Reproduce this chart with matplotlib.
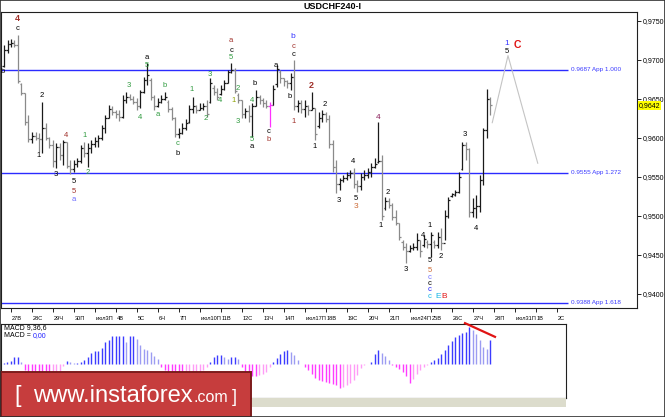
import matplotlib
matplotlib.use('Agg')
import matplotlib.pyplot as plt
import matplotlib.transforms as mtransforms
from matplotlib import font_manager
from matplotlib.patches import Rectangle

plt.rcParams['font.family'] = ['Liberation Sans', 'DejaVu Sans']

W, H = 665, 417

# ---------------- data (USDCHF, H4 bars) ----------------
highs = [
    .9719, .9725, .9726, .9725, .9731, .9670, .9657, .9629, .9607, .9607,
    .9606, .9646, .9619, .9601, .9597, .9593, .9593, .9597, .9594, .9571,
    .9571, .9574, .9590, .9594, .9593, .9597, .9601, .9603, .9616, .9629,
    .9642, .9640, .9635, .9635, .9654, .9658, .9656, .9653, .9651, .9661,
    .9678, .9696, .9676, .9654, .9651, .9654, .9658, .9648, .9639, .9626,
    .9612, .9619, .9624, .9642, .9652, .9642, .9644, .9644, .9648, .9676,
    .9667, .9663, .9667, .9674, .9687, .9696, .9689, .9657, .9648, .9638,
    .9642, .9644, .9661, .9654, .9651, .9648, .9646, .9667, .9693, .9687,
    .9676, .9674, .9683, .9699, .9648, .9648, .9648, .9642, .9658, .9638,
    .9633, .9635, .9633, .9629, .9597, .9571, .9548, .9552, .9556, .9558,
    .9561, .9546, .9555, .9558, .9561, .9567, .9574, .9620, .9578, .9524,
    .9522, .9516, .9507, .9490, .9469, .9465, .9462, .9465, .9478, .9469,
    .9475, .9469, .9479, .9469, .9479, .9484, .9507, .9524, .9529, .9533,
    .9556, .9594, .9594, .9587, .9522, .9526, .9552, .9612, .9662, .9652]
lows = [
    .9690, .9708, .9716, .9716, .9670, .9654, .9616, .9594, .9593, .9597,
    .9581, .9580, .9597, .9587, .9562, .9561, .9571, .9565, .9561, .9553,
    .9556, .9562, .9567, .9575, .9562, .9580, .9588, .9588, .9597, .9606,
    .9625, .9629, .9625, .9621, .9625, .9644, .9648, .9643, .9635, .9638,
    .9657, .9667, .9648, .9635, .9639, .9644, .9648, .9633, .9622, .9601,
    .9599, .9604, .9610, .9619, .9631, .9631, .9635, .9635, .9626, .9644,
    .9654, .9648, .9654, .9661, .9670, .9683, .9657, .9644, .9625, .9625,
    .9620, .9601, .9640, .9643, .9639, .9638, .9613, .9642, .9665, .9670,
    .9666, .9663, .9661, .9635, .9633, .9631, .9626, .9629, .9635, .9597,
    .9612, .9620, .9620, .9587, .9556, .9529, .9533, .9543, .9546, .9548,
    .9535, .9530, .9533, .9546, .9548, .9549, .9561, .9567, .9494, .9507,
    .9510, .9494, .9488, .9469, .9456, .9439, .9453, .9456, .9456, .9447,
    .9460, .9458, .9447, .9458, .9458, .9456, .9469, .9497, .9524, .9525,
    .9529, .9558, .9571, .9498, .9498, .9497, .9505, .9539, .9599, .9629]
opens = [
    .9692, .9712, .9720, .9721, .9719, .9668, .9657, .9620, .9598, .9602,
    .9600, .9598, .9612, .9600, .9590, .9570, .9588, .9578, .9594, .9564,
    .9560, .9566, .9570, .9586, .9580, .9586, .9592, .9595, .9600, .9612,
    .9625, .9637, .9633, .9630, .9626, .9648, .9652, .9650, .9646, .9640,
    .9658, .9674, .9674, .9652, .9640, .9646, .9650, .9646, .9636, .9625,
    .9604, .9606, .9612, .9620, .9636, .9640, .9635, .9638, .9640, .9646,
    .9664, .9658, .9656, .9662, .9670, .9684, .9687, .9655, .9648, .9630,
    .9634, .9628, .9640, .9652, .9648, .9644, .9640, .9642, .9668, .9684,
    .9676, .9672, .9670, .9678, .9640, .9644, .9636, .9640, .9635, .9638,
    .9615, .9625, .9630, .9624, .9592, .9562, .9540, .9545, .9548, .9552,
    .9555, .9540, .9538, .9550, .9552, .9556, .9562, .9568, .9570, .9510,
    .9518, .9514, .9498, .9490, .9466, .9460, .9455, .9458, .9460, .9468,
    .9462, .9466, .9464, .9466, .9462, .9472, .9465, .9500, .9525, .9526,
    .9530, .9560, .9590, .9585, .9505, .9510, .9512, .9545, .9610, .9650]
closes = [
    .9712, .9720, .9721, .9719, .9672, .9657, .9620, .9598, .9602, .9600,
    .9598, .9612, .9600, .9590, .9570, .9588, .9578, .9594, .9564, .9560,
    .9566, .9570, .9586, .9580, .9586, .9592, .9595, .9600, .9612, .9625,
    .9637, .9633, .9630, .9626, .9648, .9652, .9650, .9646, .9640, .9658,
    .9674, .9680, .9652, .9640, .9646, .9650, .9652, .9636, .9625, .9604,
    .9606, .9612, .9618, .9636, .9640, .9635, .9638, .9640, .9630, .9670,
    .9658, .9652, .9662, .9670, .9684, .9687, .9660, .9648, .9630, .9634,
    .9628, .9640, .9652, .9648, .9644, .9640, .9642, .9662, .9688, .9676,
    .9672, .9670, .9678, .9640, .9644, .9636, .9640, .9635, .9638, .9605,
    .9625, .9630, .9624, .9592, .9562, .9540, .9545, .9548, .9552, .9555,
    .9540, .9538, .9550, .9552, .9556, .9562, .9566, .9570, .9500, .9518,
    .9514, .9498, .9490, .9472, .9460, .9455, .9458, .9460, .9468, .9455,
    .9470, .9464, .9475, .9462, .9472, .9465, .9500, .9520, .9527, .9530,
    .9550, .9590, .9585, .9505, .9510, .9512, .9545, .9610, .9650, .9642]
# MACD(9,36,6) histogram, chart-scaled units
macd_hist = [
    0.7, 1.7, 3.3, 7.3, 7.3, 1.7, -6, -9, -11, -13,
    -14, -14, -15, -15, -14, -12, -9, -2, 3.3, 1.7,
    0.7, 0.7, 1.7, 4, 6.7, 10.7, 12.7, 13.3, 16, 21.7,
    24, 28.3, 28.3, 28.3, 28.3, 21.7, 28.3, 28.3, 25, 19.3,
    15, 14, 11.7, 8.3, 5, -3, -6, -9, -12, -14,
    -15, -15, -13, -11, -10, -9, -8, -6, -3, 1.7,
    6.7, 9, 9, 7.3, 5, 6.7, 7.3, 5, -3, -8,
    -11, -12, -12, -11, -10, -8, -3, 2, 6, 10,
    13.5, 14, 12, 9, 4, 0.5, -2.7, -6, -10, -14,
    -16, -17, -18, -18.5, -19.5, -21, -24, -23, -21, -19,
    -16, -11, -4, -1, 0.5, 2.3, 10, 14, 11.3, 8,
    4, -1, -3, -5, -8, -12, -19, -15, -10, -6,
    -3, -1, 2, 4, 6, 10, 14, 19, 23, 27,
    29, 31, 32, 37, 34, 30, 24, 17, 15, 24]
highlight_bar = 76   # magenta bar

day_idx = [2, 8, 14, 20, 26, 32, 38, 44, 50, 56, 62, 68, 74, 80, 86, 92, 98,
           104, 110, 116, 122, 128, 134, 140, 146, 152, 158]
day_labels = ['27В', '28С', '29Ч', '30П', 'июл3П', '4В', '5С', '6Ч', '7П',
              'июл10П', '11В', '12С', '13Ч', '14П', 'июл17П', '18В', '19С',
              '20Ч', '21П', 'июл24П', '25В', '26С', '27Ч', '28П', 'июл31П',
              '1В', '2С']

price_ticks = [0.9400, 0.9450, 0.9500, 0.9550, 0.9600, 0.9650, 0.9700, 0.9750]
fib_levels = [0.9687, 0.9555, 0.9388]
fib_texts = ['0.9687 App 1.000', '0.9555 App 1.272', '0.9388 App 1.618']
last_price = 0.9642

proj_idx = [139.5, 144.0, 152.5]
proj_price = [0.9619, 0.9705, 0.9567]

GREEN = '#2f9a3f'
DRED = '#a0302a'
BLUE = '#3535ff'
ORANGE = '#cc6a35'
CYAN = '#14b4e6'
RED = '#e01515'
# wave labels: (bar position, price, text, color, size)
wave_labels = [
    (3.9, 0.9753, '4', DRED, 6.5), (4.0, 0.9740, 'c', 'black', 5.5),
    (-0.3, 0.9685, 'b', 'black', 5.5), (10.9, 0.9654, '2', 'black', 5.5),
    (9.9, 0.9577, '1', 'black', 5.5), (17.7, 0.9602, '4', DRED, 5.5),
    (14.9, 0.9553, '3', 'black', 5.5), (20.0, 0.9543, '5', 'black', 5.5),
    (20.0, 0.9531, '5', DRED, 5.5), (20.0, 0.9520, 'a', '#6a6aff', 5.5),
    (22.9, 0.9603, '1', GREEN, 5.5), (24.0, 0.9555, '2', GREEN, 5.5),
    (35.7, 0.9667, '3', GREEN, 5.5), (38.9, 0.9626, '4', GREEN, 5.5),
    (40.9, 0.9702, 'a', 'black', 5.5), (40.9, 0.9692, '5', GREEN, 5.5),
    (44.0, 0.9629, 'a', GREEN, 5.5), (46.0, 0.9667, 'b', GREEN, 5.5),
    (49.7, 0.9592, 'c', GREEN, 5.5), (49.7, 0.9579, 'b', 'black', 5.5),
    (53.7, 0.9662, '1', GREEN, 5.5), (57.7, 0.9624, '2', GREEN, 5.5),
    (58.9, 0.9681, '3', GREEN, 5.5), (61.7, 0.9648, '4', GREEN, 5.5),
    (64.9, 0.9725, 'a', DRED, 5.5), (64.9, 0.9712, 'c', 'black', 5.5),
    (64.9, 0.9702, '5', GREEN, 5.5), (66.9, 0.9663, '2', GREEN, 5.5),
    (65.7, 0.9648, '1', '#8aa000', 5.5), (66.9, 0.9620, '3', GREEN, 5.5),
    (71.7, 0.9669, 'b', 'black', 5.5), (70.9, 0.9647, '4', GREEN, 5.5),
    (70.9, 0.9598, '5', GREEN, 5.5), (70.9, 0.9589, 'a', 'black', 5.5),
    (75.7, 0.9608, 'c', 'black', 5.5), (75.7, 0.9597, 'b', DRED, 5.5),
    (77.7, 0.9692, 'a', 'black', 5.5), (82.6, 0.9730, 'b', BLUE, 6),
    (82.6, 0.9717, 'c', DRED, 5.5), (82.6, 0.9706, 'c', 'black', 5.5),
    (81.7, 0.9652, 'b', 'black', 5.5), (82.6, 0.9620, '1', DRED, 5.5),
    (87.7, 0.9667, '2', DRED, 6.5), (88.6, 0.9588, '1', 'black', 5.5),
    (91.7, 0.9642, '2', 'black', 5.5), (95.7, 0.9519, '3', 'black', 5.5),
    (99.7, 0.9569, '4', 'black', 5.5), (100.6, 0.9522, '5', 'black', 5.5),
    (100.6, 0.9511, '3', ORANGE, 6), (106.8, 0.9626, '4', '#8a1f5a', 6),
    (107.7, 0.9487, '1', 'black', 5.5), (109.7, 0.9529, '2', 'black', 5.5),
    (114.8, 0.9431, '3', 'black', 5.5), (119.7, 0.9475, '4', 'black', 5.5),
    (121.7, 0.9487, '1', 'black', 5.5), (121.7, 0.9442, '5', 'black', 5.5),
    (121.7, 0.9430, '5', ORANGE, 5.5), (121.7, 0.9421, 'c', '#7070ff', 5.5),
    (121.7, 0.9413, 'c', 'black', 5.5), (121.7, 0.9405, 'c', '#2020ff', 5.5),
    (121.7, 0.9396, 'c', CYAN, 5.5), (123.9, 0.9396, 'E', CYAN, 6),
    (125.7, 0.9396, 'B', RED, 6), (124.9, 0.9448, '2', 'black', 5.5),
    (131.7, 0.9604, '3', 'black', 5.5), (134.8, 0.9483, '4', 'black', 5.5),
    (143.7, 0.9720, '1', BLUE, 6), (143.7, 0.9710, '5', 'black', 5.5),
    (146.6, 0.9719, 'C', RED, 7.5),
]

# ---------------- layout helpers ----------------
def fx(px):
    return px / W

def fy(py):
    return 1 - py / H

def xi(px):          # pixel -> bar position
    return (px - 4) / 3.5

def yp(py):          # pixel -> price
    return 0.9750 - (py - 20.5) * 0.0001282

installed = {f.name for f in font_manager.fontManager.ttflist}
if 'Liberation Sans Narrow' in installed:
    date_family, date_size = ['Liberation Sans Narrow', 'DejaVu Sans'], 4.8
else:
    date_family, date_size = ['Liberation Sans', 'DejaVu Sans'], 4.1

fig = plt.figure(figsize=(W / 100, H / 100), dpi=100)
fig.patch.set_facecolor('white')

# ---------------- main price panel ----------------
ax = fig.add_axes([fx(1), fy(308), fx(637) - fx(1), fy(12) - fy(308)])
ax.set_xlim(xi(1), xi(637))
ax.set_ylim(yp(308), yp(12))
for s in ax.spines.values():
    s.set_color('#202020')
    s.set_linewidth(0.8)

n = min(len(highs), len(lows), len(opens), len(closes))
idx = list(range(n))
cols = []
for i in idx:
    if i == highlight_bar:
        cols.append('#ff30ff')
    elif closes[i] >= opens[i]:
        cols.append('#1a1a1a')
    else:
        cols.append('#8a8a8a')
ax.vlines(idx, lows[:n], highs[:n], colors=cols, lw=0.9, zorder=3)
ax.hlines(opens[:n], [i - 0.45 for i in idx], idx, colors=cols, lw=0.9, zorder=3)
ax.hlines(closes[:n], idx, [i + 0.45 for i in idx], colors=cols, lw=0.9, zorder=3)

# Fibonacci levels
ax.hlines(fib_levels, xi(1), xi(568), colors='#2b2bff', lw=1.0, zorder=2)
for lv, t in zip(fib_levels, fib_texts):
    ax.text(xi(571), lv, t, color='#3a3aff', fontsize=4.6, ha='left', va='center')

# projected path
ax.plot(proj_idx, proj_price, color='#c4c4c4', lw=0.8, zorder=2)

# wave labels
for x, y, s, c, fs in wave_labels:
    ax.text(x, y, s, color=c, fontsize=fs, ha='center', va='center',
            fontweight='bold' if fs > 6 else 'normal', zorder=4, clip_on=False)

# price axis on the right
ax.yaxis.tick_right()
ax.set_yticks(price_ticks)
ax.set_yticklabels([('%.4f' % p).replace('.', ',') for p in price_ticks])
ax.tick_params(axis='y', length=3, width=0.6, labelsize=5.0, pad=1.0, colors='black')

trans = mtransforms.blended_transform_factory(ax.transAxes, ax.transData)
ax.text(1.0025, last_price - 0.0001, ('%.4f' % last_price).replace('.', ','),
        transform=trans, fontsize=5.0, ha='left', va='center',
        bbox=dict(boxstyle='square,pad=0.12', fc='#ffff00', ec='none'), zorder=6)

# date axis
ax.set_xticks(day_idx)
ax.tick_params(axis='x', length=3, width=0.6, labelbottom=False, direction='out')
xtr = mtransforms.blended_transform_factory(ax.transData, fig.transFigure)
for d, lab in zip(day_idx, day_labels):
    ax.text(d + 0.3, fy(318.5), lab, transform=xtr, fontsize=date_size,
            family=date_family, ha='left', va='center', clip_on=False)

# ---------------- MACD panel ----------------
am = fig.add_axes([fx(1), fy(398), fx(566) - fx(1), fy(324) - fy(398)])
am.set_xlim(xi(1), xi(566))
am.set_ylim(-34, 40)
am.set_xticks([])
am.set_yticks([])
for s in am.spines.values():
    s.set_color('#202020')
    s.set_linewidth(0.8)
hcols = []
prev = 0.0
for v in macd_hist:
    if v >= 0:
        hcols.append('#3c3cff' if v >= prev else '#9c9cf2')
    else:
        hcols.append('#ff3cff' if v <= prev else '#ff9cf6')
    prev = v
am.vlines(list(range(len(macd_hist))), 0, macd_hist, colors=hcols, lw=1.0)
am.plot([xi(464), xi(496)], [41.3, 26.7], color='#e01414', lw=1.6,
        solid_capstyle='butt', clip_on=False, zorder=5)
am.text(xi(4), 36.5, 'MACD 9,36,6', fontsize=5.0, ha='left', va='center')
am.text(xi(4), 28.5, 'MACD =', fontsize=5.0, ha='left', va='center')
am.text(xi(33), 28.5, '0,00', fontsize=5.0, ha='left', va='center', color='#2020ff')

# strip under MACD
fig.add_artist(Rectangle((fx(252), fy(407)), fx(566) - fx(252), fy(398) - fy(407),
                         transform=fig.transFigure, fc='#dcdccc', ec='none', zorder=1))

# ---------------- logo ----------------
fig.add_artist(Rectangle((fx(0.5), fy(416.5)), fx(251) - fx(0.5), fy(372) - fy(416.5),
                         transform=fig.transFigure, fc='#c63d3d', ec='#7c1c1c',
                         lw=1.4, zorder=10))
renderer = fig.canvas.get_renderer()
fig.text(fx(14), fy(402), '[', color='white', fontsize=17, ha='left',
         va='baseline', zorder=11)
t_main = fig.text(fx(33), fy(402), 'www.instaforex', color='white', fontsize=17,
                  ha='left', va='baseline', zorder=11)
bb = t_main.get_window_extent(renderer)
t_main.set_fontsize(17 * 160.0 / bb.width)
bb = t_main.get_window_extent(renderer)
t_com = fig.text(bb.x1 / fig.bbox.width + fx(0.5), fy(402), '.com', color='white',
                 fontsize=11.5, ha='left', va='baseline', zorder=11)
bc = t_com.get_window_extent(renderer)
fig.text(bc.x1 / fig.bbox.width + fx(4), fy(402), ']', color='white', fontsize=13,
         ha='left', va='baseline', zorder=11)

# title and frame
fig.text(fx(332), fy(6.5), 'USDCHF240-I', fontsize=6.5, fontweight='bold',
         ha='center', va='center')
fig.add_artist(Rectangle((0, 0), 1, 1, transform=fig.transFigure, fill=False,
                         ec='#303030', lw=1.2, zorder=20))

fig.savefig('out.png', dpi=100)
